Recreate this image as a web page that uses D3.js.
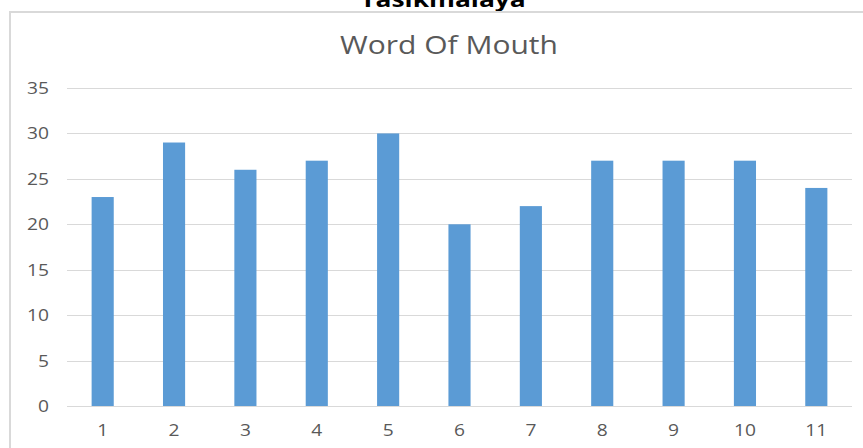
<!DOCTYPE html>
<meta charset="utf-8">
<script src="https://d3js.org/d3.v7.min.js"></script>
<style>
  body { margin: 0; background: #fff; }
  svg { display: block; }
</style>
<div id="my_dataviz"></div>
<script>

// data
var categories = ["1", "2", "3", "4", "5", "6", "7", "8", "9", "10", "11"];
var values = [23, 29, 26, 27, 30, 20, 22, 27, 27, 27, 24];
var yTicks = [0, 5, 10, 15, 20, 25, 30, 35];

var W = 863, H = 448;
var plot = {left: 67, right: 852, top: 88, bottom: 406};
var stretch = 1.2; // the source picture is a bit wider than tall

var svg = d3.select("#my_dataviz")
  .append("svg")
    .attr("width", W)
    .attr("height", H);

// helper: horizontally stretched text
function stext(g, x, y, txt, anchor) {
  return g.append("text")
    .attr("transform", "translate(" + x + "," + y + ") scale(" + stretch + ",1)")
    .attr("text-anchor", anchor)
    .text(txt);
}

// clipped heading above the chart box
stext(svg, 443, 7, "Tasikmalaya", "middle")
  .style("font-family", "'Open Sans', sans-serif")
  .style("font-weight", "bold")
  .style("font-size", "22px")
  .style("fill", "#000");

// chart frame (runs off the right and bottom of the picture)
svg.append("rect")
  .attr("x", 10)
  .attr("y", 12)
  .attr("width", 900)
  .attr("height", 500)
  .attr("fill", "#fff")
  .attr("stroke", "#d9d9d9")
  .attr("stroke-width", 2);

stext(svg, 449, 54, "Word Of Mouth", "middle")
  .style("font-family", "'Open Sans', sans-serif")
  .style("font-size", "25px")
  .style("fill", "#595959");

var x = d3.scaleBand()
  .domain(categories)
  .range([plot.left, plot.right])
  .paddingInner(0.69)
  .paddingOuter(0.345);

var y = d3.scaleLinear()
  .domain([0, 35])
  .range([plot.bottom, plot.top]);

// gridlines
svg.append("g")
  .selectAll("line")
  .data(yTicks)
  .enter()
  .append("line")
    .attr("x1", plot.left)
    .attr("x2", plot.right)
    .attr("y1", function(d) { return Math.round(y(d)) + 0.5; })
    .attr("y2", function(d) { return Math.round(y(d)) + 0.5; })
    .attr("stroke", "#d9d9d9")
    .attr("stroke-width", 1);

// y labels
var yLab = svg.append("g")
  .style("font-family", "'Open Sans', sans-serif")
  .style("font-size", "16px")
  .style("fill", "#595959");
yTicks.forEach(function(t) {
  stext(yLab, 49, y(t) + 6, String(t), "end");
});

// x labels
var xLab = svg.append("g")
  .style("font-family", "'Open Sans', sans-serif")
  .style("font-size", "16px")
  .style("fill", "#595959");
categories.forEach(function(c) {
  stext(xLab, x(c) + x.bandwidth() / 2, 436, c, "middle");
});

// bars
svg.append("g")
  .selectAll("rect")
  .data(values)
  .enter()
  .append("rect")
    .attr("x", function(d, i) { return x(categories[i]); })
    .attr("y", function(d) { return y(d); })
    .attr("width", x.bandwidth())
    .attr("height", function(d) { return y(0) - y(d); })
    .attr("fill", "#5b9bd5");

</script>
